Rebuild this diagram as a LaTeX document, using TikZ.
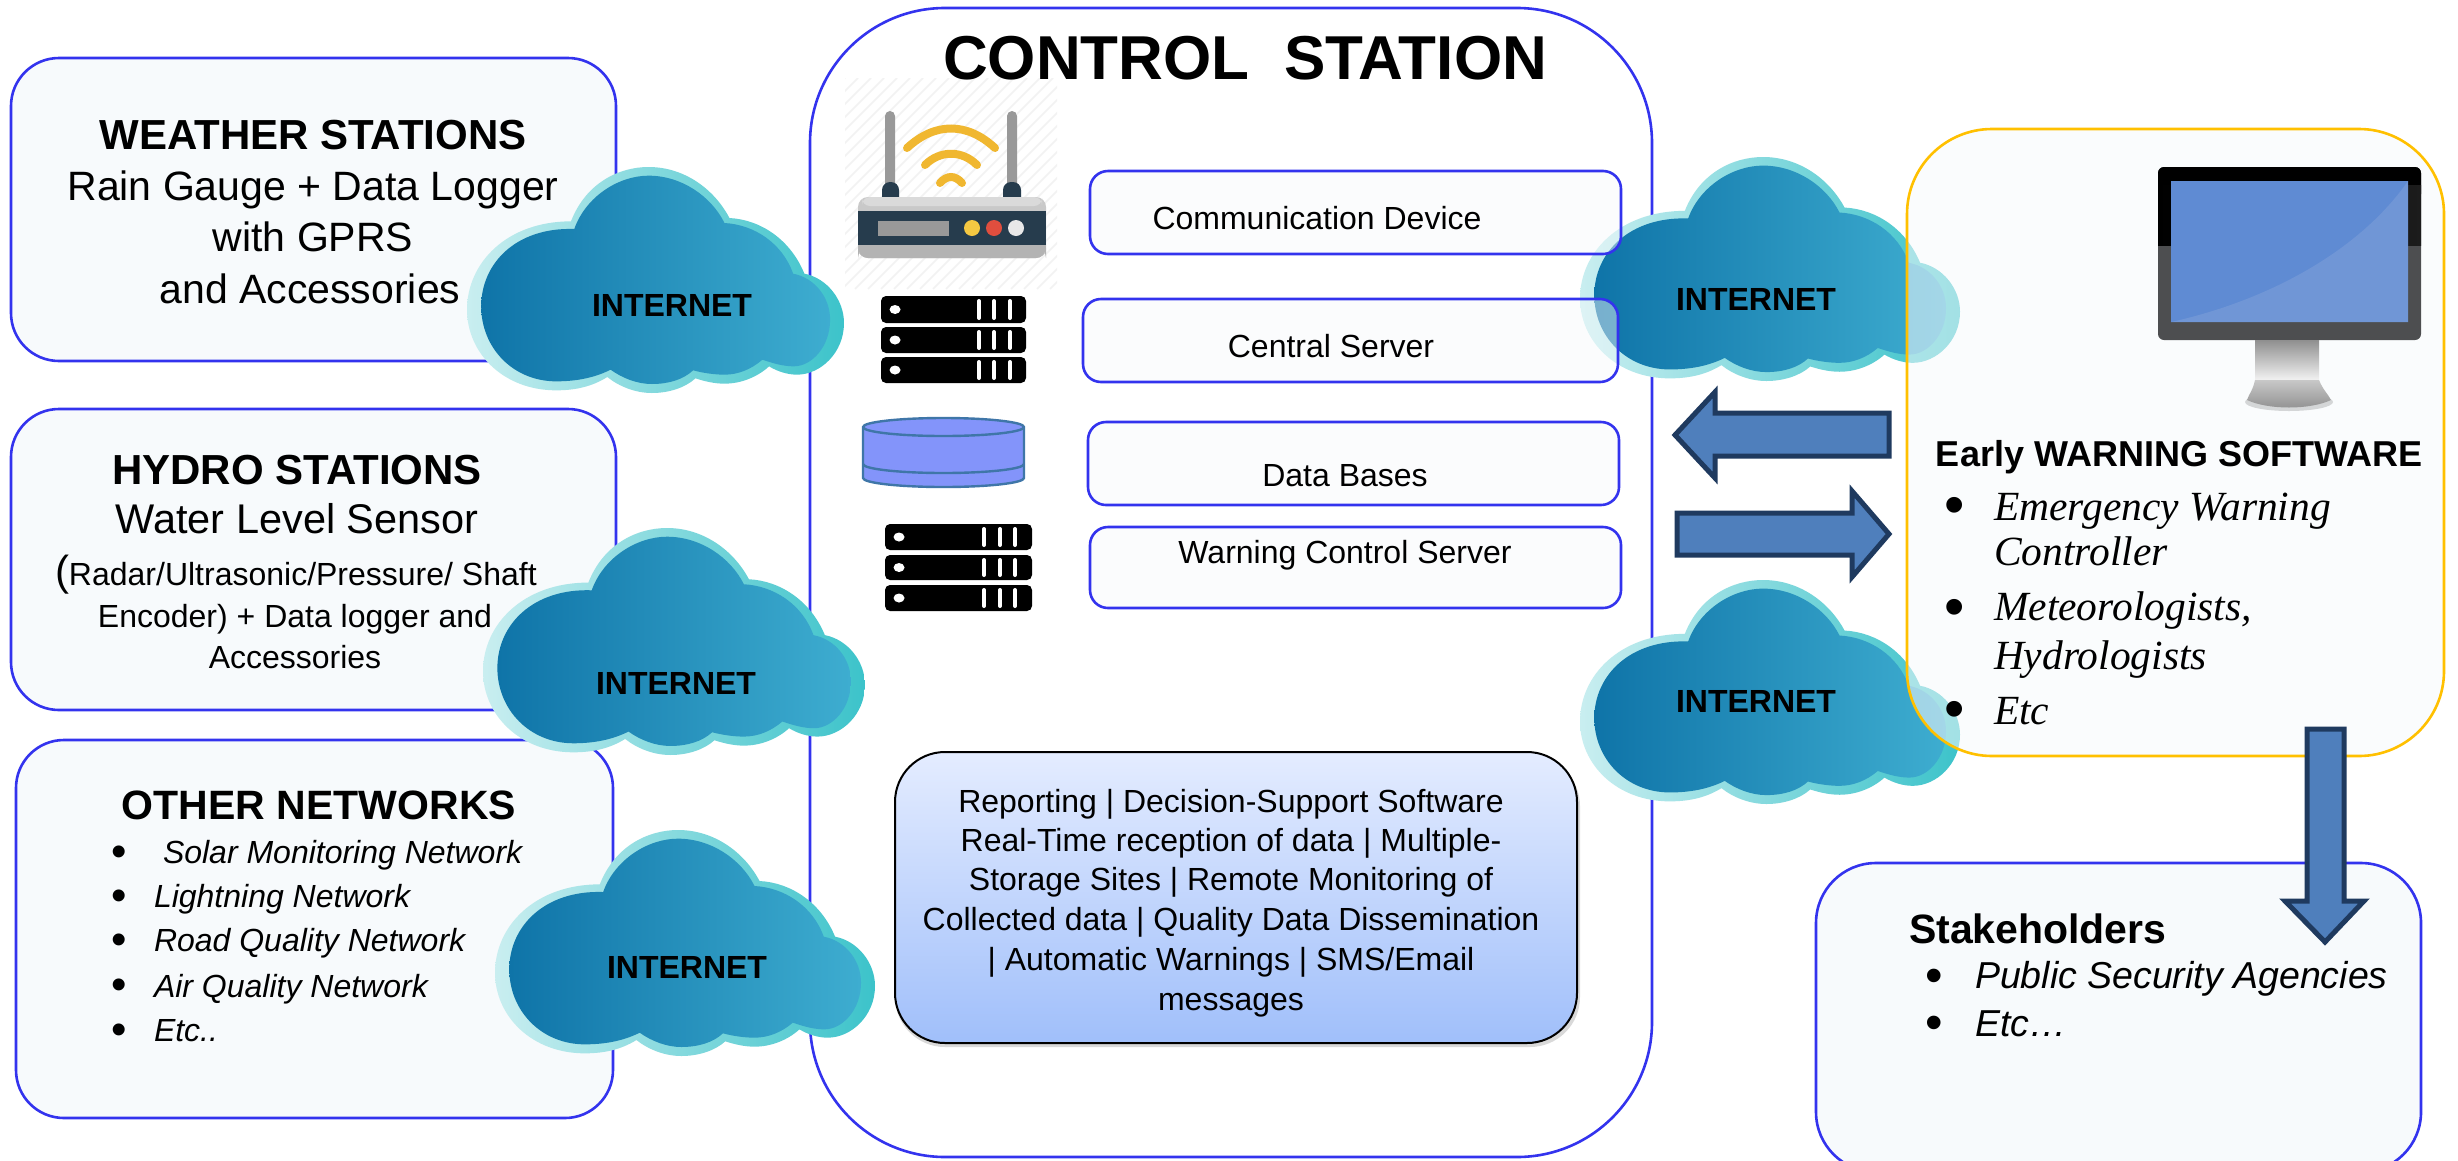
\documentclass[tikz,border=0pt]{standalone}
\usepackage{fontspec}
\setmainfont{Liberation Sans}
\newfontfamily\serifit[ItalicFont=Liberation Serif Italic]{Liberation Serif}
\newcommand{\fs}[1]{\fontsize{#1}{#1}\selectfont}
\definecolor{panelfill}{HTML}{F7FAFC}
\definecolor{panelblue}{HTML}{3333EE}
\definecolor{arrowfill}{HTML}{4F7FBC}
\definecolor{arrowline}{HTML}{1F3A5F}
\newcommand{\hc}[1]{\definecolor{#1}{HTML}{#1}}
\hc{C9EEF0}\hc{86DADF}\hc{3CC3CA}\hc{0F74A8}\hc{2E93BE}\hc{3EADD0}\hc{F2F2F2}\hc{999999}\hc{263C4D}\hc{F0B730}\hc{C9C9C9}\hc{B3B3B3}\hc{DADADA}\hc{F5C842}\hc{E04E3E}\hc{E8E8E8}\hc{3F76A8}\hc{8394FA}\hc{E4ECFF}\hc{A0BFFA}\hc{FFC000}\hc{4D4E50}\hc{1C1C1C}\hc{5F8BD3}\hc{7096D6}\hc{8F8F8F}\hc{C8C8C8}
\tikzset{
  panel/.style={draw=panelblue,line width=2.6pt,fill=panelfill},
  softpanel/.style={draw=panelblue,line width=2.6pt,fill=panelfill,fill opacity=0.45,rounded corners=18pt},
  blockarrow/.style={draw=arrowline,line width=5pt,fill=arrowfill,miter limit=8},
  txt/.style={inner sep=0pt,outer sep=0pt,anchor=mid,align=center,text=black},
  ltxt/.style={inner sep=0pt,outer sep=0pt,anchor=mid west,text=black},
  cloudtxt/.style={txt,font=\fs{32}\bfseries},
  wave/.style={draw=#1,line width=8pt,line cap=round},
  rack/.style={fill=black,rounded corners=5pt},
  slot/.style={draw=white,line width=4pt,line cap=round},
}
% local cloud coordinates: x 70..1212, y 82..760
\newcommand{\cloudat}[4]{%
\begin{scope}[shift={(#1,#2)},x=#3pt/1142,y=-#4pt/678]
\begin{scope}[shift={(-70,-82)}]
\shade[left color=C9EEF0,middle color=86DADF,right color=3CC3CA]
 (385,245) .. controls (430,130) and (530,82) .. (620,82)
 .. controls (730,82) and (820,150) .. (865,235)
 .. controls (960,240) and (1050,300) .. (1092,402)
 .. controls (1160,415) and (1212,480) .. (1212,550)
 .. controls (1212,640) and (1140,705) .. (1070,705)
 .. controls (1040,705) and (1010,695) .. (985,680)
 .. controls (950,712) and (900,732) .. (850,732)
 .. controls (820,732) and (790,725) .. (762,716)
 .. controls (730,745) and (680,760) .. (630,760)
 .. controls (580,760) and (530,740) .. (495,712)
 .. controls (450,740) and (400,752) .. (340,752)
 .. controls (180,752) and (70,640) .. (70,510)
 .. controls (70,370) and (190,245) .. (385,245) -- cycle;
\shade[left color=0F74A8,middle color=2E93BE,right color=3EADD0]
 (395,268) .. controls (430,170) and (530,108) .. (620,108)
 .. controls (720,108) and (810,170) .. (850,250)
 .. controls (940,255) and (1025,310) .. (1058,402)
 .. controls (1125,415) and (1170,475) .. (1170,540)
 .. controls (1170,620) and (1115,680) .. (1060,680)
 .. controls (1030,680) and (1000,672) .. (965,660)
 .. controls (930,690) and (890,705) .. (850,705)
 .. controls (820,705) and (785,700) .. (755,692)
 .. controls (725,720) and (680,733) .. (630,733)
 .. controls (585,733) and (540,715) .. (505,690)
 .. controls (455,715) and (400,725) .. (340,725)
 .. controls (210,725) and (113,625) .. (113,500)
 .. controls (113,370) and (220,262) .. (395,268) -- cycle;
\end{scope}
\end{scope}}
% server rack: left, right, dot x, three bars x, unused, top, bottom
\newcommand{\rackrow}[7]{%
\fill[rack] (#1,#6) rectangle (#2,#7);
\fill[white] (#3,{(#6+#7)/2}) ellipse (5.5pt and 4.5pt);
\foreach \b in {#4}{\draw[slot] (\b,#6+5) -- (\b,#7-5);}
}
\begin{document}
\begin{tikzpicture}[x=1pt,y=-1pt]
\useasboundingbox (0,0) rectangle (2458,1160);
\fill[white] (0,0) rectangle (2458,1160);

% left panels
\draw[panel,rounded corners=48pt] (11,58) rectangle (616,361);
\draw[panel,rounded corners=48pt] (11,409) rectangle (616,710);
\draw[panel,rounded corners=48pt] (16,740) rectangle (613,1118);

% control station
\draw[panel,fill=white,rounded corners=135pt] (810,8) rectangle (1652,1157);

% router icon
\begin{scope}
\clip (845,78) rectangle (1057,289);
\foreach \k in {0,13,...,430}{\draw[color=F2F2F2,line width=1.6pt] (845+\k-211,289) -- (845+\k,78);}
\end{scope}
\fill[color=999999,rounded corners=5pt] (885,111) rectangle (895,190);
\fill[color=999999,rounded corners=5pt] (1007,111) rectangle (1017,190);
\fill[color=263C4D,rounded corners=8pt] (882,182) rectangle (899,205);
\fill[color=263C4D,rounded corners=8pt] (1003,182) rectangle (1021,205);
\draw[wave=F0B730] (907,148) .. controls (935,122) and (967,122) .. (995,148);
\draw[wave=F0B730] (925,165) .. controls (940,150) and (962,150) .. (977,165);
\draw[wave=F0B730] (940,183) .. controls (947,175) and (955,175) .. (962,183);
\fill[color=C9C9C9,rounded corners=10pt] (858,197) rectangle (1046,258);
\fill[color=B3B3B3,rounded corners=10pt] (858,248) rectangle (1046,258);
\fill[color=B3B3B3] (858,245) rectangle (1046,252);
\fill[color=DADADA,rounded corners=8pt] (862,197) rectangle (1042,206);
\fill[color=263C4D] (858,211) rectangle (1046,245);
\fill[color=999999] (878,221) rectangle (949,236);
\fill[color=F5C842] (972,228) circle (8);
\fill[color=E04E3E] (994,228) circle (8);
\fill[color=E8E8E8] (1016,228) circle (8);

% servers
\rackrow{881}{1026}{895}{979,994,1010}{0}{296}{323}
\rackrow{881}{1026}{895}{979,994,1010}{0}{327}{353}
\rackrow{881}{1026}{895}{979,994,1010}{0}{357}{383}
\rackrow{885}{1032}{899}{984,1000,1015}{0}{524}{550}
\rackrow{885}{1032}{899}{984,1000,1015}{0}{555}{580}
\rackrow{885}{1032}{899}{984,1000,1015}{0}{585}{611}

% database
\begin{scope}[draw=3F76A8,fill=8394FA,line width=2.4pt]
\filldraw (863,427) arc[start angle=180,end angle=360,x radius=80.5,y radius=9] -- (1024,478)
  arc[start angle=0,end angle=180,x radius=80.5,y radius=9] -- cycle;
\draw (863,427) arc[start angle=180,end angle=0,x radius=80.5,y radius=9];
\draw (863,464) arc[start angle=180,end angle=0,x radius=80.5,y radius=9];
\end{scope}

% blue info panel
\fill[black,opacity=0.15,rounded corners=50pt] (895,756) rectangle (1580,1047);
\shade[top color=E4ECFF,bottom color=A0BFFA,rounded corners=50pt] (895,752) rectangle (1577,1043);
\draw[black,line width=2pt,rounded corners=50pt] (895,752) rectangle (1577,1043);

% clouds
\cloudat{467}{167}{377}{226}
\cloudat{483}{528}{382}{227}
\cloudat{495}{830}{380}{226}
\cloudat{1580}{157}{380}{224}
\cloudat{1580}{580}{380}{224}

% control station row panels (translucent over the cloud)
\draw[softpanel] (1090,171) rectangle (1621,254);
\draw[softpanel] (1083,299) rectangle (1618,382);
\draw[softpanel] (1088,422) rectangle (1619,505);
\draw[softpanel] (1090,527) rectangle (1621,608);

% early warning panel
\draw[draw=FFC000,line width=2.6pt,fill=panelfill,fill opacity=0.55,rounded corners=85pt] (1907,129) rectangle (2444,756);

% stakeholders panel
\draw[panel,rounded corners=60pt] (1816,863) rectangle (2421,1172);

% monitor
\fill[color=4D4E50,rounded corners=6pt] (2158,167) rectangle (2421,340);
\fill[color=black,rounded corners=6pt] (2158,167) rectangle (2421,200);
\shade[left color=black,right color=1C1C1C] (2158,185) rectangle (2421,245);
\fill[color=5F8BD3] (2171,181) rectangle (2408,322);
\fill[color=7096D6] (2171,322) .. controls (2270,300) and (2360,250) .. (2408,181) -- (2408,322) -- cycle;
\shade[top color=8F8F8F,bottom color=F2F2F2] (2255,340) rectangle (2319,380);
\fill[color=black,opacity=0.15] (2289,402) ellipse (44pt and 9pt);
\shade[top color=C8C8C8,bottom color=8F8F8F] (2255,380) -- (2319,380) .. controls (2323,390) and (2328,394) .. (2331,400) .. controls (2310,410) and (2268,410) .. (2247,400) .. controls (2249,394) and (2253,390) .. (2255,380) -- cycle;

% block arrows
\draw[blockarrow] (1889,413) -- (1715,413) -- (1715,392) -- (1675,435) -- (1715,478) -- (1715,456) -- (1889,456) -- cycle;
\draw[blockarrow] (1677,513) -- (1852,513) -- (1852,491) -- (1889,534) -- (1852,577) -- (1852,555) -- (1677,555) -- cycle;
\draw[blockarrow] (2307,729) -- (2344,729) -- (2344,901) -- (2364,901) -- (2325,942) -- (2285,901) -- (2307,901) -- cycle;

% cloud labels
\node[cloudtxt] (net1) at (672,314) {INTERNET};
\node[cloudtxt] (net2) at (676,692) {INTERNET};
\node[cloudtxt] (net3) at (687,976) {INTERNET};
\node[cloudtxt] (net4) at (1756,308) {INTERNET};
\node[cloudtxt] (net5) at (1756,710) {INTERNET};

% title
\node[txt,font=\fs{62}\bfseries] (title) at (1245,77) {CONTROL\ \ STATION};

% weather text
\node[txt,font=\fs{42}\bfseries] (w1) at (313,147) {WEATHER STATIONS};
\node[txt,font=\fs{41}] (w2) at (313,198) {Rain Gauge + Data Logger};
\node[txt,font=\fs{41}] (w3) at (313,249) {with GPRS};
\node[txt,font=\fs{41}] (w4) at (310,301) {and Accessories};

% hydro text
\node[txt,font=\fs{42}\bfseries] (h1) at (297,482) {HYDRO STATIONS};
\node[txt,font=\fs{41.5}] (h2) at (297,531) {Water Level Sensor};
\node[ltxt,font=\fs{32}] (h3) at (55,583) {{\fs{42}(}Radar/Ultrasonic/Pressure/ Shaft};
\node[txt,font=\fs{32}] (h4) at (295,625) {Encoder) + Data logger and};
\node[txt,font=\fs{32}] (h5) at (295,666) {Accessories};

% other networks text
\node[txt,font=\fs{41}\bfseries] (o1) at (319,817) {OTHER NETWORKS};
\foreach \n/\y in {1/864,2/908,3/952,4/997,5/1042}{\node[txt,font=\fs{44}] (ob\n) at (119,\y) {•};}
\node[ltxt,font=\fs{32}\itshape] (o2) at (163,861) {Solar Monitoring Network};
\node[ltxt,font=\fs{32}\itshape] (o3) at (154,905) {Lightning Network};
\node[ltxt,font=\fs{32}\itshape] (o4) at (154,949) {Road Quality Network};
\node[ltxt,font=\fs{32}\itshape] (o5) at (154,995) {Air Quality Network};
\node[ltxt,font=\fs{32}\itshape] (o6) at (154,1039) {Etc..};

% control rows
\node[txt,font=\fs{32}] (c1) at (1317,227) {Communication Device};
\node[txt,font=\fs{32}] (c2) at (1331,355) {Central Server};
\node[txt,font=\fs{32}] (c3) at (1345,484) {Data Bases};
\node[txt,font=\fs{32}] (c4) at (1345,561) {Warning Control Server};

% info text
\node[txt,font=\fs{32}] (i1) at (1231,810) {Reporting | Decision-Support Software};
\node[txt,font=\fs{32}] (i2) at (1231,849) {Real-Time reception of data | Multiple-};
\node[txt,font=\fs{32}] (i3) at (1231,888) {Storage Sites | Remote Monitoring of};
\node[txt,font=\fs{32}] (i4) at (1231,928) {Collected data | Quality Data Dissemination};
\node[txt,font=\fs{32}] (i5) at (1231,968) {| Automatic Warnings | SMS/Email};
\node[txt,font=\fs{32}] (i6) at (1231,1008) {messages};

% early warning text
\node[txt,font=\fs{36}\bfseries] (e0) at (2179,464) {Early WARNING SOFTWARE};
\foreach \n/\y in {1/522,2/624,3/726}{\node[txt,font=\fs{58}] (eb\n) at (1955,\y) {•};}
\node[ltxt,font=\serifit\fs{41.5}\itshape] (e1) at (1994,518) {Emergency Warning};
\node[ltxt,font=\serifit\fs{41.5}\itshape] (e2) at (1994,563) {Controller};
\node[ltxt,font=\serifit\fs{41.5}\itshape] (e3) at (1994,618) {Meteorologists,};
\node[ltxt,font=\serifit\fs{41.5}\itshape] (e4) at (1994,667) {Hydrologists};
\node[ltxt,font=\serifit\fs{41.5}\itshape] (e5) at (1994,722) {Etc};

% stakeholders text
\node[ltxt,font=\fs{41}\bfseries] (s0) at (1909,941) {Stakeholders};
\node[txt,font=\fs{50}] (sb1) at (1934,990) {•};
\node[txt,font=\fs{50}] (sb2) at (1934,1037) {•};
\node[ltxt,font=\fs{37.5}\itshape] (s1) at (1975,986) {Public Security Agencies};
\node[ltxt,font=\fs{37.5}\itshape] (s2) at (1975,1034) {Etc…};
\end{tikzpicture}
\end{document}
